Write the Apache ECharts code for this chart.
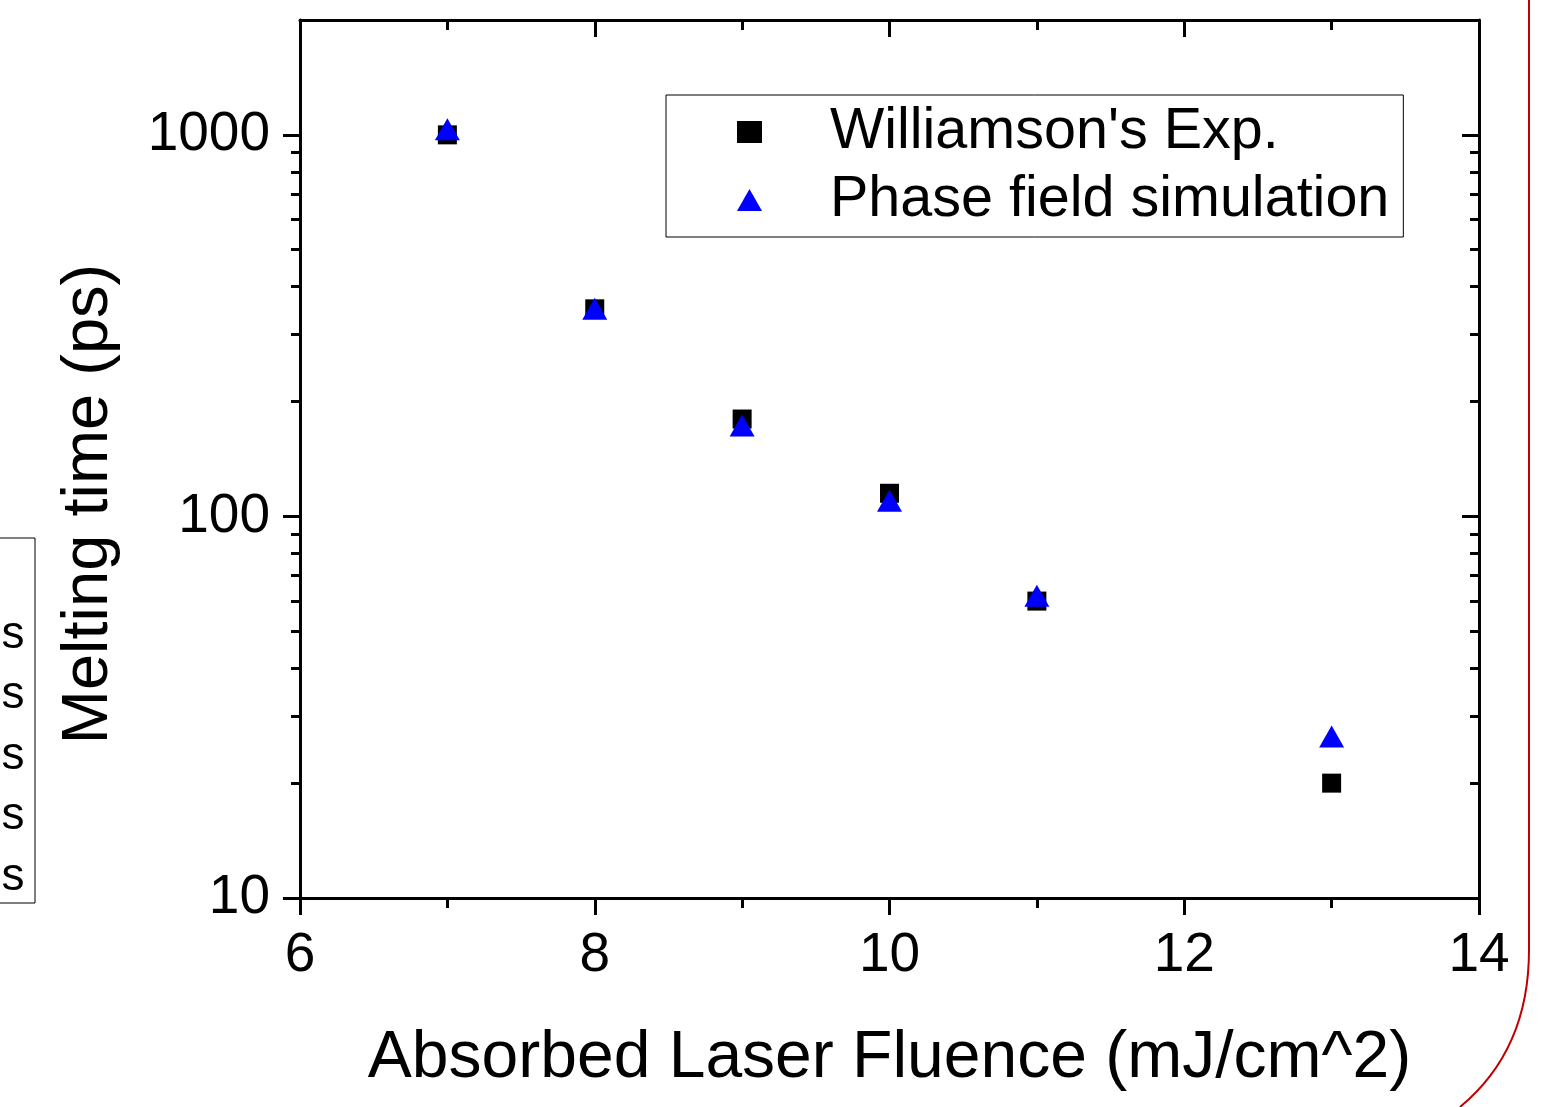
<!DOCTYPE html>
<html>
<head>
<meta charset="utf-8">
<script src="https://cdn.jsdelivr.net/npm/echarts@6/dist/echarts.min.js"></script>
<style>
  html, body { margin: 0; padding: 0; background: #fff; }
  #chart { width: 1567px; height: 1107px; }
</style>
</head>
<body>
<div id="chart"></div>
<script>
// 데이터
const fluence = [7, 8, 9, 10, 11, 13];
const expTime = [1000, 350, 180, 115, 60, 20];
const simTime = [1035, 350, 173, 110, 62, 26.5];
const seriesNames = ["Williamson's Exp.", 'Phase field simulation'];

// 눈금
const yMajorTicks = [10, 100, 1000];
const yMinorTicks = [20, 30, 40, 50, 60, 70, 80, 90, 200, 300, 400, 500, 600, 700, 800, 900];
const sideLetters = ['s', 's', 's', 's', 's'];

const FONT = '"Liberation Sans", Arial, sans-serif';
const chart = echarts.init(document.getElementById('chart'));

const line = { lineStyle: { color: '#000', width: 3 } };
const gridBox = { left: 300, right: 88, top: 20, bottom: 209 };

// x축: 주눈금 간격 2, 보조눈금 1
function xAxisOf(position, gridIndex, visible) {
    return {
        type: 'value', gridIndex: gridIndex, position: position,
        min: 6, max: 14, interval: 2, show: visible,
        axisLine: { show: true, onZero: false, ...line },
        axisTick: { show: true, inside: position === 'top', length: 17, ...line },
        minorTick: { show: true, splitNumber: 2, length: 10, ...line },
        axisLabel: position === 'bottom'
            ? { show: true, margin: 30, color: '#000', fontSize: 55, fontFamily: FONT }
            : { show: false },
        splitLine: { show: false }
    };
}

// y축: 로그 축, 주/보조 눈금은 격자를 나눠서 그림
function yAxisOf(position, gridIndex, ticks, len, isMajor) {
    return {
        type: 'log', logBase: 10, gridIndex: gridIndex, position: position,
        min: 10, max: 2000,
        axisLine: { show: isMajor, onZero: false, ...line },
        axisTick: { show: true, inside: position === 'right', length: len, customValues: ticks, ...line },
        axisLabel: (isMajor && position === 'left')
            ? {
                show: true, customValues: yMajorTicks, margin: 30, color: '#000',
                fontSize: 55, fontFamily: FONT, formatter: v => String(v)
            }
            : { show: false },
        splitLine: { show: false }
    };
}

const xAxes = [
    xAxisOf('bottom', 0, true),
    xAxisOf('top', 0, true),
    xAxisOf('bottom', 1, false)
];
xAxes[0].name = 'Absorbed Laser Fluence (mJ/cm^2)';
xAxes[0].nameLocation = 'middle';
xAxes[0].nameGap = 128;
xAxes[0].nameTextStyle = { color: '#000', fontSize: 66, fontFamily: FONT };

const yAxes = [
    yAxisOf('left', 0, yMajorTicks, 17, true),
    yAxisOf('right', 0, yMajorTicks, 17, true),
    yAxisOf('left', 1, yMinorTicks, 9, false),
    yAxisOf('right', 1, yMinorTicks, 9, false)
];
yAxes[0].name = 'Melting time (ps)';
yAxes[0].nameLocation = 'middle';
yAxes[0].nameGap = 178;
yAxes[0].nameTextStyle = { color: '#000', fontSize: 65, fontFamily: FONT, padding: [0, 90, 0, 0] };

const option = {
    animation: false,
    backgroundColor: '#fff',
    grid: [{ ...gridBox }, { ...gridBox }],
    xAxis: xAxes,
    yAxis: yAxes,
    legend: {
        orient: 'vertical',
        left: 666, top: 95,
        padding: [8, 14, 8, 71],
        itemWidth: 25, itemHeight: 22,
        itemGap: 10,
        symbolKeepAspect: true,
        borderColor: '#000', borderWidth: 1,
        backgroundColor: '#fff',
        textStyle: {
            color: '#000', fontSize: 57.5, lineHeight: 57, fontFamily: FONT,
            padding: [0, 0, 0, 63]
        },
        data: seriesNames
    },
    series: [
        {
            name: seriesNames[0], type: 'scatter',
            xAxisIndex: 0, yAxisIndex: 0,
            symbol: 'rect', symbolSize: 19, symbolKeepAspect: true,
            itemStyle: { color: '#000', opacity: 1 },
            data: fluence.map((x, i) => [x, expTime[i]])
        },
        {
            name: seriesNames[1], type: 'scatter',
            xAxisIndex: 0, yAxisIndex: 0,
            symbol: 'triangle', symbolSize: [25, 22], symbolKeepAspect: true,
            itemStyle: { color: '#0000ff', opacity: 1 },
            data: fluence.map((x, i) => [x, simTime[i]])
        }
    ],
    graphic: [
        // 왼쪽 잘린 상자
        {
            type: 'rect', shape: { x: -2, y: 538, width: 37, height: 365 },
            style: { fill: 'none', stroke: '#000', lineWidth: 1 }
        },
        ...sideLetters.map((s, i) => ({
            type: 'text', x: 13, y: 635 + i * 60.5,
            style: { text: s, fill: '#000', fontSize: 46, fontFamily: FONT, align: 'center', verticalAlign: 'middle' }
        })),
        // 오른쪽 빨간 곡선
        {
            type: 'line', shape: { x1: 1529, y1: 0, x2: 1529, y2: 950 },
            style: { stroke: '#c00000', lineWidth: 2 }
        },
        {
            type: 'bezierCurve',
            shape: { x1: 1529, y1: 950, cpx1: 1529, cpy1: 1050, x2: 1460, y2: 1107 },
            style: { fill: 'none', stroke: '#c00000', lineWidth: 2 }
        }
    ]
};

chart.setOption(option);
</script>
</body>
</html>
